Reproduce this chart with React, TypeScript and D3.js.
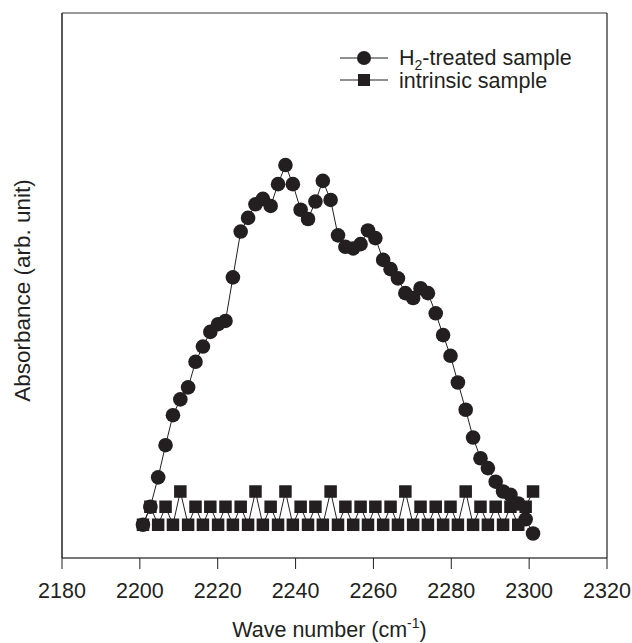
import React from "react";
import * as d3 from "d3";

// wavenumbers (cm-1), shared by both series
const wavenumbers = [
  2200.8, 2202.7, 2204.7, 2206.6, 2208.5, 2210.4, 2212.4, 2214.3, 2216.2, 2218.1,
  2220.1, 2222.0, 2223.9, 2225.9, 2227.8, 2229.7, 2231.6, 2233.6, 2235.5, 2237.4,
  2239.3, 2241.3, 2243.2, 2245.1, 2247.0, 2249.0, 2250.9, 2252.8, 2254.8, 2256.7,
  2258.6, 2260.5, 2262.5, 2264.4, 2266.3, 2268.2, 2270.2, 2272.1, 2274.0, 2276.0,
  2277.9, 2279.8, 2281.7, 2283.7, 2285.6, 2287.5, 2289.4, 2291.4, 2293.3, 2295.2,
  2297.2, 2299.1, 2301.0,
];

const h2Treated = [
  0.061, 0.094, 0.148, 0.207, 0.262, 0.291, 0.313, 0.360, 0.388, 0.415,
  0.429, 0.435, 0.515, 0.599, 0.624, 0.649, 0.659, 0.646, 0.686, 0.721,
  0.686, 0.639, 0.622, 0.654, 0.692, 0.657, 0.592, 0.571, 0.568, 0.576,
  0.601, 0.587, 0.547, 0.530, 0.513, 0.486, 0.477, 0.495, 0.486, 0.449,
  0.409, 0.371, 0.322, 0.272, 0.221, 0.183, 0.165, 0.140, 0.122, 0.116,
  0.100, 0.071, 0.045,
];

const intrinsic = [
  0.061, 0.094, 0.061, 0.094, 0.061, 0.122, 0.061, 0.094, 0.061, 0.094,
  0.061, 0.094, 0.061, 0.094, 0.061, 0.122, 0.061, 0.094, 0.061, 0.122,
  0.061, 0.094, 0.061, 0.094, 0.061, 0.122, 0.061, 0.094, 0.061, 0.094,
  0.061, 0.094, 0.061, 0.094, 0.061, 0.122, 0.061, 0.094, 0.061, 0.094,
  0.061, 0.094, 0.061, 0.122, 0.061, 0.094, 0.061, 0.094, 0.061, 0.094,
  0.061, 0.094, 0.122,
];

const xTicks = [2180, 2200, 2220, 2240, 2260, 2280, 2300, 2320];

const ink = "#231f20";
const font = "Liberation Sans, Arial, sans-serif";

const App = () => {
  const margin = { top: 13, right: 25, bottom: 85, left: 62 };
  const W = 632;
  const H = 643;
  const x0 = margin.left;
  const x1 = W - margin.right;
  const y0 = H - margin.bottom;
  const y1 = margin.top;

  const x = d3.scaleLinear().domain([2180, 2320]).range([x0, x1]);
  const y = d3.scaleLinear().domain([0, 1]).range([y0, y1]);

  const line = d3
    .line<number>()
    .x((_, i) => x(wavenumbers[i]))
    .y((d) => y(d));

  const sq = 12.5;

  return (
    <svg width={W} height={H} style={{ position: "absolute", left: 0, top: 0 }}>
      <rect width={W} height={H} fill="#fff" />

      {/* frame */}
      <line x1={x0} x2={x1} y1={y1} y2={y1} stroke="#777" strokeWidth={1.5} />
      <line x1={x0} x2={x1} y1={y0} y2={y0} stroke="#777" strokeWidth={2} />
      <line x1={x0} x2={x0} y1={y1} y2={y0} stroke={ink} strokeWidth={1.5} />
      <line x1={x1} x2={x1} y1={y1} y2={y0} stroke={ink} strokeWidth={1.2} />

      {/* x ticks */}
      {xTicks.map((t) => (
        <g key={t}>
          <line x1={x(t)} x2={x(t)} y1={y0} y2={y0 + 11} stroke={ink} strokeWidth={1} />
          <text
            x={x(t)}
            y={y0 + 40}
            textAnchor="middle"
            fontFamily={font}
            fontSize={21.5}
            fill={ink}
          >
            {t}
          </text>
        </g>
      ))}

      <text x={(x0 + x1) / 2 - 5} y={H - 6} textAnchor="middle" fontFamily={font} fontSize={21.5} fill={ink}>
        Wave number (cm
        <tspan dy={-9} fontSize={14}>-1</tspan>
        <tspan dy={9}>)</tspan>
      </text>

      <text
        transform={`translate(30,${(y0 + y1) / 2 + 5}) rotate(-90)`}
        textAnchor="middle"
        fontFamily={font}
        fontSize={22.5}
        fill={ink}
      >
        Absorbance (arb. unit)
      </text>

      {/* intrinsic sample */}
      <path d={line(intrinsic) ?? ""} fill="none" stroke={ink} strokeWidth={1} />
      {intrinsic.map((d, i) => (
        <rect
          key={"s" + i}
          x={x(wavenumbers[i]) - sq / 2}
          y={y(d) - sq / 2}
          width={sq}
          height={sq}
          fill={ink}
        />
      ))}

      {/* H2-treated sample */}
      <path d={line(h2Treated) ?? ""} fill="none" stroke={ink} strokeWidth={1} />
      {h2Treated.map((d, i) => (
        <circle key={"c" + i} cx={x(wavenumbers[i])} cy={y(d)} r={7.3} fill={ink} />
      ))}

      {/* legend */}
      <g fontFamily={font} fontSize={21.5} fill={ink}>
        <line x1={340} x2={388} y1={58} y2={58} stroke={ink} strokeWidth={1} />
        <circle cx={364} cy={58} r={7} fill={ink} />
        <text x={399} y={65}>
          H<tspan dy={5} fontSize={14}>2</tspan>
          <tspan dy={-5}>-treated sample</tspan>
        </text>
        <line x1={340} x2={388} y1={80} y2={80} stroke={ink} strokeWidth={1} />
        <rect x={364 - 6} y={80 - 6} width={12} height={12} fill={ink} />
        <text x={399} y={88}>intrinsic sample</text>
      </g>
    </svg>
  );
};

export default App;
